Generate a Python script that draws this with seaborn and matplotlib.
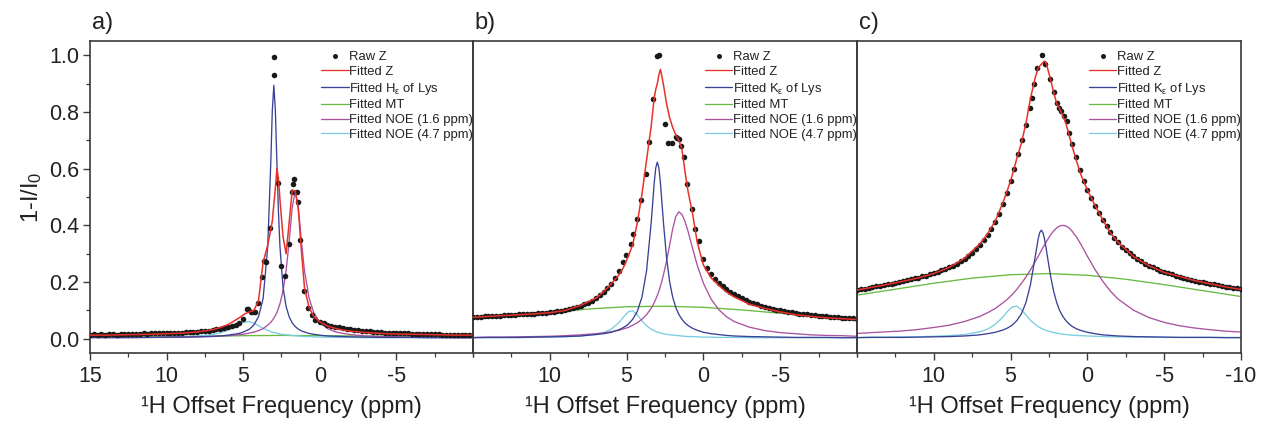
import matplotlib
matplotlib.use("Agg")
import matplotlib.pyplot as plt
import seaborn as sns
from matplotlib.lines import Line2D
from matplotlib.ticker import MultipleLocator, FixedLocator

# ---------------- shared offset grids (ppm) ----------------
FIT_X = [15, 14, 13, 12, 11, 10, 9, 8, 7,
         6.5, 6, 5.5, 5.2, 4.9, 4.6, 4.3, 4.0, 3.7, 3.4,
         3.2, 3.1, 3.0, 2.9, 2.8, 2.7, 2.6, 2.4, 2.2, 2.0,
         1.8, 1.6, 1.4, 1.2, 1.0, 0.7, 0.4, 0.0,
         -0.5, -1, -1.5, -2, -3, -4, -5, -6, -7, -8, -9, -10]
MT_X = [15, 12.5, 10, 7.5, 5, 2.5, 0, -2.5, -5, -7.5, -10]
RAW_LEFT_X = [15, 14.75, 14.5, 14.25, 14, 13.75, 13.5, 13.25, 13, 12.75,
              12.5, 12.25, 12, 11.75, 11.5, 11.25, 11, 10.75, 10.5, 10.25,
              10, 9.75, 9.5, 9.25, 9, 8.75, 8.5, 8.25, 8, 7.75,
              7.5, 7.25, 7, 6.75, 6.5, 6.25, 6, 5.75, 5.5]
RAW_RIGHT_X = [0, -0.25, -0.5, -0.75, -1, -1.25, -1.5, -1.75, -2, -2.25,
               -2.5, -2.75, -3, -3.25, -3.5, -3.75, -4, -4.25, -4.5, -4.75,
               -5, -5.25, -5.5, -5.75, -6, -6.25, -6.5, -6.75, -7, -7.25,
               -7.5, -7.75, -8, -8.25, -8.5, -8.75, -9, -9.25, -9.5, -9.75,
               -10]

# ---------------- panel a ----------------
A_FIT_Z = [0.013, 0.013, 0.014, 0.015, 0.016, 0.018, 0.020, 0.024, 0.032,
           0.040, 0.050, 0.066, 0.076, 0.088, 0.095, 0.100, 0.135, 0.270, 0.330,
           0.385, 0.415, 0.475, 0.530, 0.600, 0.565, 0.490, 0.360, 0.300, 0.410,
           0.525, 0.520, 0.455, 0.310, 0.180, 0.110, 0.080, 0.060,
           0.045, 0.037, 0.031, 0.027, 0.022, 0.019, 0.017, 0.016, 0.015, 0.014, 0.013, 0.013]
A_LYS = [0.005, 0.005, 0.005, 0.005, 0.005, 0.006, 0.006, 0.007, 0.009,
         0.010, 0.013, 0.017, 0.020, 0.026, 0.034, 0.049, 0.078, 0.142, 0.324,
         0.620, 0.805, 0.894, 0.805, 0.620, 0.449, 0.324, 0.182, 0.114, 0.078,
         0.056, 0.043, 0.034, 0.028, 0.024, 0.019, 0.016, 0.013,
         0.010, 0.009, 0.008, 0.007, 0.006, 0.005, 0.005, 0.005, 0.004, 0.004, 0.004, 0.004]
A_NOE16 = [0.004, 0.004, 0.004, 0.004, 0.005, 0.005, 0.006, 0.007, 0.008,
           0.010, 0.011, 0.013, 0.015, 0.017, 0.020, 0.024, 0.029, 0.036, 0.048,
           0.058, 0.065, 0.073, 0.082, 0.093, 0.107, 0.124, 0.170, 0.240, 0.343,
           0.462, 0.523, 0.462, 0.343, 0.240, 0.144, 0.093, 0.058,
           0.036, 0.025, 0.019, 0.015, 0.010, 0.008, 0.007, 0.006, 0.005, 0.005, 0.004, 0.004]
A_NOE47 = [0.004, 0.004, 0.004, 0.005, 0.005, 0.006, 0.007, 0.010, 0.015,
           0.021, 0.030, 0.043, 0.052, 0.059, 0.061, 0.055, 0.046, 0.037, 0.030,
           0.025, 0.024, 0.022, 0.021, 0.020, 0.018, 0.017, 0.015, 0.014, 0.013,
           0.011, 0.011, 0.010, 0.009, 0.008, 0.008, 0.007, 0.006,
           0.006, 0.005, 0.005, 0.005, 0.004, 0.004, 0.004, 0.004, 0.004, 0.004, 0.004, 0.004]
A_MT = [0.006, 0.007, 0.008, 0.009, 0.011, 0.012, 0.011, 0.010, 0.009, 0.008, 0.007]
A_RAW_LEFT = [0.015, 0.016, 0.014, 0.016, 0.015, 0.016, 0.016, 0.015, 0.017, 0.016,
              0.017, 0.018, 0.017, 0.018, 0.019, 0.018, 0.019, 0.019, 0.020, 0.019,
              0.020, 0.021, 0.021, 0.022, 0.022, 0.023, 0.024, 0.024, 0.025, 0.026,
              0.028, 0.029, 0.031, 0.033, 0.036, 0.039, 0.042, 0.046, 0.050]
A_RAW_MID_X = [5.25, 5.04, 4.78, 4.67, 4.52, 4.35, 4.24, 4.02, 3.76, 3.65,
               3.54, 3.26, 3.0, 2.98, 2.72, 2.5, 2.28, 2.02, 1.84, 1.74,
               1.67, 1.52, 1.41, 1.26, 1.04, 0.76, 0.54, 0.3]
A_RAW_MID = [0.056, 0.069, 0.104, 0.105, 0.094, 0.094, 0.094, 0.125, 0.219, 0.274,
             0.270, 0.390, 0.930, 0.993, 0.549, 0.257, 0.222, 0.333, 0.517, 0.546,
             0.564, 0.517, 0.482, 0.347, 0.170, 0.108, 0.084, 0.068]
A_RAW_RIGHT = [0.060, 0.055, 0.050, 0.046, 0.043, 0.040, 0.037, 0.035, 0.033, 0.031,
               0.030, 0.028, 0.027, 0.026, 0.025, 0.024, 0.023, 0.022, 0.022, 0.021,
               0.020, 0.020, 0.019, 0.019, 0.018, 0.018, 0.017, 0.017, 0.017, 0.016,
               0.016, 0.016, 0.015, 0.015, 0.015, 0.015, 0.014, 0.014, 0.014, 0.014,
               0.013]

# ---------------- panel b ----------------
B_FIT_Z = [0.076, 0.079, 0.082, 0.085, 0.088, 0.092, 0.100, 0.118, 0.143,
           0.166, 0.194, 0.225, 0.252, 0.290, 0.332, 0.410, 0.510, 0.630, 0.750,
           0.850, 0.880, 0.900, 0.930, 0.950, 0.925, 0.895, 0.830, 0.780, 0.745,
           0.720, 0.700, 0.670, 0.590, 0.520, 0.440, 0.340, 0.260,
           0.215, 0.188, 0.165, 0.148, 0.122, 0.107, 0.095, 0.085, 0.079, 0.074, 0.071, 0.068]
B_LYS = [0.004, 0.005, 0.005, 0.005, 0.006, 0.007, 0.008, 0.010, 0.015,
         0.018, 0.023, 0.032, 0.040, 0.051, 0.069, 0.097, 0.147, 0.240, 0.409,
         0.551, 0.603, 0.623, 0.603, 0.551, 0.481, 0.409, 0.286, 0.202, 0.147,
         0.111, 0.086, 0.069, 0.056, 0.047, 0.037, 0.030, 0.023,
         0.018, 0.015, 0.012, 0.010, 0.008, 0.007, 0.006, 0.005, 0.005, 0.005, 0.004, 0.004]
B_NOE16 = [0.005, 0.006, 0.006, 0.007, 0.008, 0.009, 0.011, 0.014, 0.018,
           0.021, 0.025, 0.030, 0.035, 0.040, 0.048, 0.057, 0.069, 0.085, 0.108,
           0.128, 0.140, 0.153, 0.168, 0.185, 0.204, 0.226, 0.274, 0.330, 0.387,
           0.431, 0.448, 0.439, 0.414, 0.379, 0.318, 0.259, 0.196,
           0.140, 0.103, 0.078, 0.061, 0.041, 0.029, 0.022, 0.018, 0.014, 0.012, 0.011, 0.009]
B_NOE47 = [0.004, 0.004, 0.004, 0.004, 0.005, 0.006, 0.007, 0.010, 0.016,
           0.022, 0.034, 0.057, 0.077, 0.095, 0.099, 0.084, 0.063, 0.046, 0.034,
           0.029, 0.026, 0.024, 0.022, 0.021, 0.019, 0.018, 0.016, 0.014, 0.013,
           0.012, 0.011, 0.010, 0.009, 0.008, 0.008, 0.007, 0.006,
           0.006, 0.005, 0.005, 0.005, 0.004, 0.004, 0.004, 0.004, 0.004, 0.004, 0.004, 0.004]
B_MT = [0.069, 0.081, 0.093, 0.105, 0.113, 0.115, 0.111, 0.102, 0.090, 0.078, 0.066]
B_RAW_LEFT = [0.077, 0.078, 0.078, 0.079, 0.080, 0.080, 0.081, 0.082, 0.083, 0.083,
              0.084, 0.085, 0.086, 0.086, 0.087, 0.088, 0.089, 0.090, 0.091, 0.092,
              0.094, 0.095, 0.097, 0.099, 0.101, 0.104, 0.107, 0.111, 0.116, 0.121,
              0.127, 0.134, 0.145, 0.154, 0.165, 0.178, 0.195, 0.215, 0.240]
B_RAW_MID_X = [5.25, 5.04, 4.72, 4.57, 4.30, 4.07, 3.76, 3.54, 3.30, 3.0,
               2.9, 2.5, 2.28, 2.07, 1.80, 1.70, 1.57, 1.48, 1.26, 1.04,
               0.76, 0.54, 0.26]
B_RAW_MID = [0.270, 0.297, 0.336, 0.371, 0.421, 0.488, 0.580, 0.695, 0.845, 0.996,
             1.000, 0.759, 0.689, 0.689, 0.710, 0.708, 0.704, 0.680, 0.640, 0.546,
             0.458, 0.388, 0.345]
B_RAW_RIGHT = [0.280, 0.250, 0.228, 0.212, 0.197, 0.185, 0.174, 0.165, 0.157, 0.150,
               0.143, 0.137, 0.131, 0.126, 0.121, 0.117, 0.113, 0.109, 0.106, 0.103,
               0.100, 0.098, 0.095, 0.093, 0.091, 0.089, 0.087, 0.086, 0.084, 0.083,
               0.081, 0.080, 0.079, 0.078, 0.077, 0.076, 0.075, 0.074, 0.073, 0.072,
               0.071]

# ---------------- panel c ----------------
C_FIT_Z = [0.172, 0.182, 0.192, 0.203, 0.215, 0.230, 0.252, 0.284, 0.335,
           0.370, 0.415, 0.480, 0.525, 0.575, 0.635, 0.690, 0.760, 0.850, 0.920,
           0.955, 0.962, 0.968, 0.974, 0.979, 0.975, 0.955, 0.915, 0.870, 0.830,
           0.810, 0.785, 0.760, 0.720, 0.680, 0.625, 0.575, 0.525,
           0.470, 0.420, 0.373, 0.340, 0.290, 0.258, 0.234, 0.220, 0.205, 0.194, 0.183, 0.174]
C_LYS = [0.004, 0.005, 0.005, 0.005, 0.006, 0.007, 0.008, 0.010, 0.014,
         0.018, 0.023, 0.031, 0.038, 0.048, 0.064, 0.088, 0.128, 0.193, 0.289,
         0.354, 0.375, 0.383, 0.375, 0.354, 0.324, 0.289, 0.222, 0.168, 0.128,
         0.099, 0.079, 0.064, 0.053, 0.044, 0.035, 0.029, 0.023,
         0.018, 0.014, 0.012, 0.010, 0.008, 0.007, 0.006, 0.005, 0.005, 0.005, 0.004, 0.004]
C_NOE16 = [0.019, 0.022, 0.025, 0.028, 0.033, 0.040, 0.048, 0.061, 0.079,
           0.092, 0.107, 0.127, 0.140, 0.156, 0.174, 0.195, 0.218, 0.244, 0.272,
           0.291, 0.301, 0.311, 0.321, 0.331, 0.340, 0.349, 0.366, 0.380, 0.391,
           0.398, 0.400, 0.398, 0.391, 0.380, 0.358, 0.331, 0.291,
           0.244, 0.203, 0.168, 0.140, 0.101, 0.075, 0.058, 0.046, 0.038, 0.032, 0.027, 0.024]
C_NOE47 = [0.005, 0.006, 0.006, 0.007, 0.007, 0.009, 0.011, 0.015, 0.025,
           0.034, 0.051, 0.077, 0.097, 0.112, 0.115, 0.103, 0.084, 0.065, 0.051,
           0.043, 0.040, 0.037, 0.034, 0.032, 0.030, 0.028, 0.025, 0.022, 0.020,
           0.018, 0.016, 0.015, 0.014, 0.013, 0.012, 0.011, 0.010,
           0.009, 0.008, 0.007, 0.007, 0.006, 0.006, 0.005, 0.005, 0.005, 0.005, 0.005, 0.005]
C_MT = [0.154, 0.175, 0.196, 0.214, 0.226, 0.230, 0.224, 0.210, 0.191, 0.170, 0.149]
C_RAW_LEFT = [0.172, 0.175, 0.177, 0.180, 0.182, 0.185, 0.187, 0.190, 0.193, 0.195,
              0.198, 0.201, 0.204, 0.207, 0.210, 0.213, 0.216, 0.220, 0.223, 0.227,
              0.231, 0.236, 0.241, 0.246, 0.252, 0.258, 0.265, 0.273, 0.282, 0.291,
              0.302, 0.315, 0.330, 0.348, 0.366, 0.388, 0.412, 0.440, 0.475]
C_RAW_MID_X = [5.25, 5.0, 4.75, 4.5, 4.25, 4.0, 3.75, 3.59, 3.45, 3.26,
               2.98, 2.75, 2.46, 2.2, 1.98, 1.85, 1.7, 1.52, 1.35, 1.2,
               0.98, 0.75, 0.5, 0.25]
C_RAW_MID = [0.515, 0.555, 0.600, 0.650, 0.700, 0.755, 0.815, 0.850, 0.900, 0.956,
             0.999, 0.968, 0.917, 0.870, 0.830, 0.815, 0.804, 0.786, 0.768, 0.727,
             0.687, 0.640, 0.595, 0.555]
C_RAW_RIGHT = [0.525, 0.497, 0.470, 0.445, 0.420, 0.398, 0.375, 0.357, 0.340, 0.325,
               0.312, 0.301, 0.291, 0.282, 0.273, 0.265, 0.258, 0.252, 0.246, 0.240,
               0.235, 0.231, 0.227, 0.223, 0.219, 0.215, 0.212, 0.208, 0.205, 0.202,
               0.200, 0.197, 0.194, 0.192, 0.189, 0.187, 0.184, 0.182, 0.180, 0.178,
               0.176]

PANEL_LABELS = ["a)", "b)", "c)"]
LYS_LABELS = ["Fitted H$_{\\varepsilon}$ of Lys", "Fitted K$_{\\varepsilon}$ of Lys",
              "Fitted K$_{\\varepsilon}$ of Lys"]
X_TICKS = [[15, 10, 5, 0, -5], [10, 5, 0, -5], [10, 5, 0, -5, -10]]
Y_TICKS = [0.0, 0.2, 0.4, 0.6, 0.8, 1.0]

# ---------------- styling ----------------
sns.set_theme(style="ticks")
plt.rcParams["font.family"] = ["Liberation Sans", "DejaVu Sans"]
plt.rcParams["mathtext.default"] = "regular"

RED = "#e8312a"
BLUE = "#3a4296"
GREEN = "#67bb42"
MAGENTA = "#aa52a0"
CYAN = "#7acde0"
DOT = "#1a1a1a"
SPINE = "#3a3a3a"
TXT = "#222222"
LW = 0.95

panels = [
    dict(fit=A_FIT_Z, lys=A_LYS, n16=A_NOE16, n47=A_NOE47, mt=A_MT,
         rl=A_RAW_LEFT, mx=A_RAW_MID_X, my=A_RAW_MID, rr=A_RAW_RIGHT),
    dict(fit=B_FIT_Z, lys=B_LYS, n16=B_NOE16, n47=B_NOE47, mt=B_MT,
         rl=B_RAW_LEFT, mx=B_RAW_MID_X, my=B_RAW_MID, rr=B_RAW_RIGHT),
    dict(fit=C_FIT_Z, lys=C_LYS, n16=C_NOE16, n47=C_NOE47, mt=C_MT,
         rl=C_RAW_LEFT, mx=C_RAW_MID_X, my=C_RAW_MID, rr=C_RAW_RIGHT),
]

W, H = 1262, 424
fig = plt.figure(figsize=(W / 100, H / 100), dpi=100)
fig.patch.set_facecolor("white")
lefts = [90, 473, 857]
rights = [473, 857, 1241]
top_px, bot_px = 41, 353

for i, p in enumerate(panels):
    ax = fig.add_axes([lefts[i] / W, 1 - bot_px / H,
                       (rights[i] - lefts[i]) / W, (bot_px - top_px) / H])
    ax.patch.set_visible(False)

    raw_x = RAW_LEFT_X + p["mx"] + RAW_RIGHT_X
    raw_y = p["rl"] + p["my"] + p["rr"]

    sns.lineplot(x=MT_X, y=p["mt"], ax=ax, color=GREEN, lw=LW, estimator=None, sort=False, zorder=2)
    sns.lineplot(x=FIT_X, y=p["n47"], ax=ax, color=CYAN, lw=LW, estimator=None, sort=False, zorder=2)
    sns.lineplot(x=FIT_X, y=p["n16"], ax=ax, color=MAGENTA, lw=LW, estimator=None, sort=False, zorder=2)
    sns.lineplot(x=FIT_X, y=p["lys"], ax=ax, color=BLUE, lw=LW, estimator=None, sort=False, zorder=2)
    sns.scatterplot(x=raw_x, y=raw_y, ax=ax, color=DOT, s=16, linewidth=0, zorder=3)
    sns.lineplot(x=FIT_X, y=p["fit"], ax=ax, color=RED, lw=LW + 0.15, estimator=None, sort=False, zorder=4)

    ax.set_xlim(15, -10)
    ax.set_ylim(-0.05, 1.05)

    ax.xaxis.set_major_locator(FixedLocator(X_TICKS[i]))
    ax.set_xticklabels([str(t) for t in X_TICKS[i]])
    ax.xaxis.set_minor_locator(MultipleLocator(2.5))
    ax.tick_params(axis="x", which="major", direction="out", length=5, width=1,
                   color=SPINE, labelsize=15.5, labelcolor=TXT, pad=4)
    ax.tick_params(axis="x", which="minor", direction="out", length=3, width=0.9, color=SPINE)

    if i == 0:
        ax.yaxis.set_major_locator(FixedLocator(Y_TICKS))
        ax.set_yticklabels([f"{t:.1f}" for t in Y_TICKS])
        ax.yaxis.set_minor_locator(MultipleLocator(0.1))
        ax.tick_params(axis="y", which="major", direction="out", length=5, width=1,
                       color=SPINE, labelsize=15.5, labelcolor=TXT, pad=3)
        ax.tick_params(axis="y", which="minor", direction="out", length=3, width=0.9, color=SPINE)
        ax.set_ylabel("1-I/I$_0$", fontsize=17, color=TXT, labelpad=3)
    else:
        ax.tick_params(axis="y", which="both", left=False, labelleft=False)
        ax.set_ylabel("")

    ax.set_xlabel("\u00b9H Offset Frequency (ppm)", fontsize=17, color=TXT, labelpad=7)

    for s in ax.spines.values():
        s.set_visible(True)
        s.set_color(SPINE)
        s.set_linewidth(1.2)

    ax.text(0.005, 1.022, PANEL_LABELS[i], transform=ax.transAxes, fontsize=17,
            ha="left", va="bottom", color=TXT)

    handles = [
        Line2D([], [], ls="none", marker="o", ms=3.6, mec="none", color=DOT, label="Raw Z"),
        Line2D([], [], color=RED, lw=LW, label="Fitted Z"),
        Line2D([], [], color=BLUE, lw=LW, label=LYS_LABELS[i]),
        Line2D([], [], color=GREEN, lw=LW, label="Fitted MT"),
        Line2D([], [], color=MAGENTA, lw=LW, label="Fitted NOE (1.6 ppm)"),
        Line2D([], [], color=CYAN, lw=LW, label="Fitted NOE (4.7 ppm)"),
    ]
    leg = ax.legend(handles=handles, loc="upper left", bbox_to_anchor=(0.597, 0.976),
                    frameon=False, fontsize=9.4, handlelength=2.1, handletextpad=0.05,
                    labelspacing=0.2, borderaxespad=0, borderpad=0.2)
    for t in leg.get_texts():
        t.set_color(TXT)

fig.savefig("out.png", dpi=100, facecolor="white")
